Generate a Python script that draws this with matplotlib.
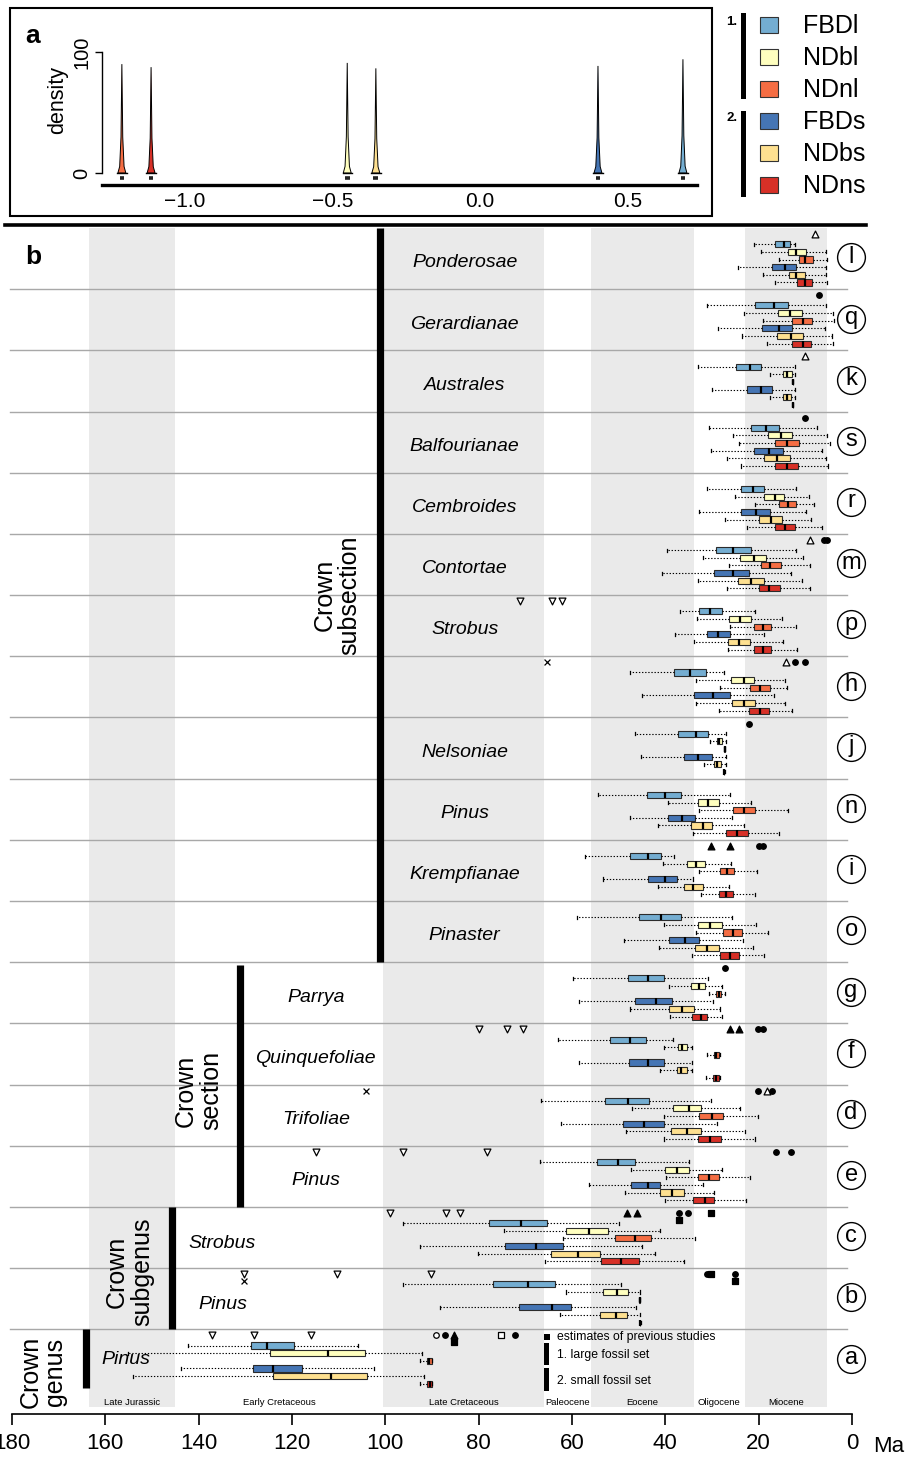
import matplotlib
matplotlib.use('Agg')
import matplotlib.pyplot as plt
from matplotlib.patches import Rectangle
from matplotlib.lines import Line2D

plt.rcParams['font.family'] = ['Liberation Sans', 'DejaVu Sans']

W, H = 905, 1460
def fx(p): return p / W
def fy(p): return 1 - p / H

# ---------------- data ----------------
models = ['FBDl', 'NDbl', 'NDnl', 'FBDs', 'NDbs', 'NDns']
model_colors = ['#74ADD1', '#FFFFBF', '#F46D43', '#4575B4', '#FEE090', '#D73027']

# panel a: rate densities (centre, peak height)
rate_models = ['NDnl', 'NDns', 'NDbl', 'NDbs', 'FBDs', 'FBDl']
rate_centers = [-1.214, -1.115, -0.450, -0.353, 0.400, 0.688]
rate_peaks = [90, 87.5, 91, 86.5, 88.5, 94]

# panel b rows (top to bottom)
row_ids = ['l', 'q', 'k', 's', 'r', 'm', 'p', 'h', 'j', 'n', 'i', 'o',
           'g', 'f', 'd', 'e', 'c', 'b', 'a']
clade_names = ['Ponderosae', 'Gerardianae', 'Australes', 'Balfourianae', 'Cembroides',
               'Contortae', 'Strobus', '', 'Nelsoniae', 'Pinus', 'Krempfianae', 'Pinaster',
               'Parrya', 'Quinquefoliae', 'Trifoliae', 'Pinus', 'Strobus', 'Pinus', 'Pinus']

# age summaries (Ma): oldest whisker, older quartile, median, younger quartile, youngest whisker
FBDl = [(21.1, 16.4, 14.5, 13.2, 12.2), (31.0, 20.7, 16.8, 13.7, 5.6), (32.9, 24.8, 21.9, 19.4, 12.2),
        (30.7, 21.6, 18.4, 15.6, 7.4), (31.1, 23.8, 21.3, 18.9, 11.9), (39.7, 29.1, 25.4, 21.7, 11.9),
        (36.9, 32.7, 30.4, 27.9, 20.7), (47.6, 38.2, 34.7, 31.3, 27.4), (46.6, 37.2, 33.4, 30.8, 27.1),
        (54.4, 43.9, 40.1, 36.6, 26.2), (57.2, 47.6, 43.7, 41.0, 38.1), (59.0, 45.6, 40.9, 36.7, 25.8),
        (59.7, 48.1, 43.8, 40.2, 30.9), (62.9, 51.8, 47.6, 44.2, 38.3), (66.7, 52.9, 48.1, 43.6, 30.2),
        (66.9, 54.7, 50.2, 46.6, 34.9), (96.2, 77.7, 71.0, 65.3, 50.0), (96.2, 77.0, 69.5, 63.7, 49.4),
        (142.2, 128.7, 125.4, 119.5, 105.9)]
NDbl = [(19.4, 13.8, 11.9, 9.9, 5.6), (23.1, 15.8, 13.2, 10.8, 4.1), (17.5, 14.8, 13.9, 12.9, 12.2),
        (25.4, 17.9, 15.3, 12.8, 5.4), (25.1, 18.9, 16.4, 14.5, 9.3), (31.9, 23.9, 21.0, 18.5, 10.6),
        (33.3, 26.3, 24.0, 21.6, 14.9), (33.5, 25.9, 23.2, 20.9, 14.4), (30.4, 29.0, 28.5, 27.9, 27.1),
        (39.5, 32.9, 30.8, 28.5, 21.7), (40.4, 35.3, 33.5, 31.6, 26.0), (40.2, 32.9, 30.4, 27.9, 20.6),
        (39.3, 34.6, 32.7, 31.4, 27.9), (40.3, 37.3, 36.4, 35.4, 34.2), (47.2, 38.4, 35.0, 32.4, 23.9),
        (47.4, 40.0, 37.5, 35.0, 27.9), (74.6, 61.3, 56.3, 52.2, 41.2), (61.2, 53.3, 50.3, 47.9, 45.4),
        (155.2, 124.7, 112.2, 104.3, 92.2)]
NDnl = [(15.7, 11.4, 10.0, 8.4, 5.3), (19.0, 12.9, 10.5, 8.6, 3.9), (12.8, 12.75, 12.7, 12.65, 12.6),
        (24.3, 16.6, 13.9, 11.4, 4.8), (20.8, 15.6, 13.8, 11.9, 8.1), (26.4, 19.6, 17.5, 15.2, 8.9),
        (26.2, 20.9, 19.1, 17.3, 11.9), (28.2, 21.9, 19.7, 17.6, 13.9), (27.4, 27.35, 27.3, 27.25, 27.2),
        (32.7, 25.6, 23.1, 20.8, 13.8), (32.7, 28.3, 26.8, 25.2, 20.4), (33.4, 27.6, 25.5, 23.6, 17.9),
        (30.6, 29.1, 28.6, 28.0, 27.3), (31.0, 29.6, 29.2, 28.6, 28.2), (40.2, 32.7, 29.9, 27.6, 20.1),
        (39.9, 33.0, 30.7, 28.4, 21.9), (62.0, 50.7, 46.4, 43.0, 33.6), (45.6, 45.55, 45.5, 45.45, 45.4),
        (92.6, 91.1, 90.6, 90.1, 90.1)]
FBDs = [(24.5, 17.1, 14.4, 12.1, 5.6), (28.7, 19.3, 15.7, 12.9, 5.8), (30.1, 22.4, 19.5, 17.2, 12.2),
        (30.2, 21.0, 17.8, 14.7, 6.5), (32.7, 23.7, 20.6, 17.6, 9.9), (40.7, 29.6, 25.6, 22.0, 13.0),
        (37.9, 31.1, 28.7, 26.1, 18.9), (45.1, 33.8, 29.8, 26.2, 16.7), (45.2, 36.1, 32.9, 29.9, 27.1),
        (47.6, 39.4, 36.4, 33.7, 25.7), (53.3, 43.8, 40.0, 37.4, 34.0), (48.9, 39.2, 35.8, 32.7, 23.4),
        (58.6, 46.6, 42.0, 38.5, 29.7), (58.6, 47.7, 43.8, 40.3, 34.2), (62.4, 49.1, 44.5, 40.2, 28.9),
        (56.4, 47.3, 43.7, 41.2, 32.0), (92.5, 74.3, 67.7, 62.0, 45.0), (88.2, 71.4, 64.2, 60.2, 46.3),
        (143.7, 128.4, 124.0, 117.9, 102.5)]
NDbs = [(19.0, 13.6, 11.9, 10.1, 5.6), (23.6, 16.0, 13.0, 10.6, 4.3), (17.5, 14.7, 13.9, 13.0, 12.2),
        (26.7, 18.8, 16.0, 13.2, 5.6), (27.2, 19.9, 17.3, 14.9, 8.8), (33.1, 24.5, 21.6, 18.8, 10.7),
        (33.9, 26.6, 24.2, 21.8, 14.7), (33.5, 25.8, 23.2, 20.7, 14.3), (31.7, 29.5, 28.9, 28.0, 27.1),
        (41.5, 34.6, 32.0, 29.9, 23.2), (41.6, 35.9, 34.0, 31.9, 26.3), (41.4, 33.7, 31.0, 28.4, 21.2),
        (47.5, 39.3, 36.4, 33.9, 28.2), (41.2, 37.6, 36.6, 35.4, 34.2), (48.5, 38.8, 35.4, 32.4, 22.9),
        (48.7, 41.2, 38.6, 36.1, 29.5), (80.2, 64.6, 58.8, 53.9, 42.3), (62.6, 53.9, 50.5, 48.2, 45.5),
        (154.1, 124.0, 111.6, 104.0, 91.7)]
NDns = [(16.6, 11.8, 10.1, 8.5, 5.3), (18.3, 12.8, 10.4, 8.8, 4.0), (12.8, 12.75, 12.7, 12.65, 12.6),
        (23.8, 16.6, 14.0, 11.6, 5.2), (22.6, 16.4, 14.3, 12.3, 6.5), (26.8, 20.0, 17.7, 15.4, 9.0),
        (26.5, 21.0, 19.1, 17.3, 11.7), (28.4, 22.1, 19.7, 17.8, 12.9), (27.5, 27.45, 27.4, 27.35, 27.3),
        (34.1, 27.1, 24.6, 22.3, 15.6), (32.4, 28.4, 26.9, 25.4, 20.8), (34.3, 28.3, 26.2, 24.2, 18.8),
        (39.1, 34.3, 32.4, 31.1, 27.8), (31.3, 29.8, 29.2, 28.6, 28.2), (40.3, 33.1, 30.5, 28.0, 20.7),
        (40.0, 34.0, 31.6, 29.5, 22.8), (65.8, 53.7, 49.4, 45.7, 36.1), (45.5, 45.45, 45.4, 45.35, 45.3),
        (92.6, 91.0, 90.5, 90.0, 90.0)]
model_data = [FBDl, NDbl, NDnl, FBDs, NDbs, NDns]

# previous estimates: (row, age Ma, symbol, level)
prev_estimates = [
    ('l', 7.9, 'tri_open', 0), ('q', 7.1, 'dot', 0), ('k', 10.1, 'tri_open', 0), ('s', 10.1, 'dot', 0),
    ('m', 8.9, 'tri_open', 0), ('m', 6.1, 'dot', 0), ('m', 5.4, 'dot', 0),
    ('p', 71.2, 'dtri_open', 0), ('p', 64.3, 'dtri_open', 0), ('p', 62.1, 'dtri_open', 0),
    ('h', 65.4, 'x', 0), ('h', 14.1, 'tri_open', 0), ('h', 12.2, 'dot', 0), ('h', 10.1, 'dot', 0),
    ('j', 22.1, 'dot', 0),
    ('i', 30.2, 'tri_fill', 0), ('i', 26.2, 'tri_fill', 0), ('i', 20.0, 'dot', 0), ('i', 19.1, 'dot', 0),
    ('g', 27.2, 'dot', 0),
    ('f', 80.0, 'dtri_open', 0), ('f', 74.0, 'dtri_open', 0), ('f', 70.5, 'dtri_open', 0),
    ('f', 26.2, 'tri_fill', 0), ('f', 24.2, 'tri_fill', 0), ('f', 20.2, 'dot', 0), ('f', 19.1, 'dot', 0),
    ('d', 104.2, 'x', 0), ('d', 20.2, 'dot', 0), ('d', 18.3, 'tri_open', 0), ('d', 17.1, 'dot', 0),
    ('e', 114.9, 'dtri_open', 0), ('e', 96.2, 'dtri_open', 0), ('e', 78.2, 'dtri_open', 0),
    ('e', 16.2, 'dot', 0), ('e', 13.1, 'dot', 0),
    ('c', 99.1, 'dtri_open', 0), ('c', 87.0, 'dtri_open', 0), ('c', 84.1, 'dtri_open', 0),
    ('c', 48.2, 'tri_fill', 0), ('c', 46.1, 'tri_fill', 0), ('c', 37.1, 'dot', 0), ('c', 35.1, 'dot', 0),
    ('c', 37.1, 'sq', 1), ('c', 30.2, 'sq', 0),
    ('b', 130.3, 'dtri_open', 0), ('b', 130.3, 'x', 1), ('b', 110.3, 'dtri_open', 0),
    ('b', 90.3, 'dtri_open', 0), ('b', 31.1, 'dot', 0), ('b', 30.3, 'sq', 0),
    ('b', 25.1, 'dot', 0), ('b', 25.1, 'sq', 1),
    ('a', 137.1, 'dtri_open', 0), ('a', 128.1, 'dtri_open', 0), ('a', 116.0, 'dtri_open', 0),
    ('a', 89.2, 'circ_open', 0), ('a', 87.2, 'dot', 0), ('a', 85.2, 'tri_fill', 0), ('a', 85.2, 'sq', 1),
    ('a', 75.2, 'sq_open', 0), ('a', 72.2, 'dot', 0),
]

# geological periods (Ma)
period_names = ['Late Jurassic', 'Early Cretaceous', 'Late Cretaceous', 'Paleocene',
                'Eocene', 'Oligocene', 'Miocene']
period_start = [163.5, 145.0, 100.5, 66.0, 56.0, 33.9, 23.0]
period_end = [145.0, 100.5, 66.0, 56.0, 33.9, 23.0, 5.3]
period_shaded = [True, False, True, False, True, False, True]

age_ticks = [180, 160, 140, 120, 100, 80, 60, 40, 20, 0]

# ---------------- figure ----------------
fig = plt.figure(figsize=(W / 100, H / 100), dpi=100)

# ===== panel a =====
axa = fig.add_axes([fx(102.4), fy(185), fx(696.8) - fx(102.4), (185 - 45) / H])
axa.set_xlim(-1.28, 0.735)
axa.set_ylim(-9.9, 105.8)
color_of = dict(zip(models, model_colors))
prof_x = [-1, -0.55, -0.22, 0, 0.22, 0.55, 1]
prof_y = [0, 0.06, 0.33, 1, 0.33, 0.06, 0]
for m, c, h in zip(rate_models, rate_centers, rate_peaks):
    xs = [c + 0.0135 * p for p in prof_x]
    ys = [h * q for q in prof_y]
    axa.fill(xs, ys, facecolor=color_of[m], edgecolor='black', lw=0.7, zorder=3)
    axa.plot([c - 0.016, c + 0.016], [0, 0], color='black', lw=1.0, zorder=3)
    axa.plot([c - 0.008, c + 0.008], [-4.5, -4.5], color='#222222', lw=2.6,
             solid_capstyle='butt', zorder=3)
for s in ['top', 'right']:
    axa.spines[s].set_visible(False)
axa.spines['left'].set_bounds(0, 100)
axa.spines['left'].set_linewidth(1.0)
axa.spines['bottom'].set_linewidth(2.4)
axa.set_xticks([-1.0, -0.5, 0.0, 0.5])
axa.set_xticklabels(['\u22121.0', '\u22120.5', '0.0', '0.5'], fontsize=15)
axa.tick_params(axis='x', length=0, pad=5)
axa.set_yticks([0, 100])
axa.set_yticklabels(['0', '100'], fontsize=14.5, rotation=90, va='center')
axa.tick_params(axis='y', length=5, width=1.0, pad=3)
fig.text(fx(58), fy(100), 'density', rotation=90, ha='center', va='center', fontsize=15.5)
fig.add_artist(Rectangle((fx(10), fy(216)), fx(712) - fx(10), (216 - 8) / H,
                         transform=fig.transFigure, fill=False, lw=1.5, ec='black'))
fig.text(fx(33), fy(36), 'a', fontsize=19, fontweight='bold', ha='center', va='center')

# legend (top right)
leg_y = [25, 57, 89, 121, 153, 185]
for m, col, yy in zip(models, model_colors, leg_y):
    fig.add_artist(Rectangle((fx(760), fy(yy + 8)), 18 / W, 16 / H, transform=fig.transFigure,
                             facecolor=col, edgecolor='#333333', lw=0.8))
    fig.text(fx(803), fy(yy + 1), m, fontsize=18, ha='left', va='center')
fig.add_artist(Rectangle((fx(741), fy(99)), 5 / W, 86 / H, transform=fig.transFigure,
                         facecolor='black', edgecolor='none'))
fig.add_artist(Rectangle((fx(741), fy(197)), 5 / W, 86 / H, transform=fig.transFigure,
                         facecolor='black', edgecolor='none'))
fig.text(fx(732), fy(22), '1.', fontsize=9.5, fontweight='bold', ha='center', va='center')
fig.text(fx(732), fy(118), '2.', fontsize=9.5, fontweight='bold', ha='center', va='center')

# separator line
fig.add_artist(Line2D([fx(5), fx(866)], [fy(225), fy(225)], transform=fig.transFigure,
                      color='black', lw=2.6))

# ===== panel b =====
axb = fig.add_axes([fx(12), fy(1407), fx(852) - fx(12), (1407 - 228) / H])
axb.set_xlim(180, 0)
axb.set_ylim(19.27, 0)

for st, en, sh in zip(period_start, period_end, period_shaded):
    if sh:
        axb.axvspan(en, st, color='#EAEAEA', lw=0, zorder=0)
for name, st, en in zip(period_names, period_start, period_end):
    axb.text((st + en) / 2, 19.19, name, fontsize=6.8, ha='center', va='center', zorder=3)

nrows = len(row_ids)
for k in range(1, nrows):
    axb.plot([180.4, 1.07], [k, k], color='#A8A8A8', lw=1.0, clip_on=False, zorder=1)

def draw_boxes(ax, stats, positions, color, width=0.1):
    kw = dict(positions=positions, widths=width, patch_artist=True, showfliers=False,
              capwidths=0.05, manage_ticks=False,
              boxprops=dict(facecolor=color, edgecolor='#2b2b2b', linewidth=0.8),
              medianprops=dict(color='black', linewidth=1.6, solid_capstyle='butt'),
              whiskerprops=dict(color='black', linewidth=0.8, linestyle=(0, (1.2, 1.6))),
              capprops=dict(color='black', linewidth=0.9))
    try:
        ax.bxp(stats, orientation='horizontal', **kw)
    except TypeError:
        ax.bxp(stats, vert=False, **kw)

for i, (data, col) in enumerate(zip(model_data, model_colors)):
    stats = []
    pos = []
    for r, (wo, qo, med, qy, wy) in enumerate(data):
        stats.append(dict(med=med, q1=qy, q3=qo, whislo=wy, whishi=wo, fliers=[]))
        pos.append(r + 0.265 + 0.125 * i)
    draw_boxes(axb, stats, pos, col)

marker_styles = {
    'tri_open': dict(marker='^', facecolors='white', edgecolors='black', s=24),
    'tri_fill': dict(marker='^', facecolors='black', edgecolors='black', s=24),
    'dtri_open': dict(marker='v', facecolors='white', edgecolors='black', s=24),
    'dot': dict(marker='o', facecolors='black', edgecolors='black', s=16),
    'circ_open': dict(marker='o', facecolors='white', edgecolors='black', s=16),
    'sq': dict(marker='s', facecolors='black', edgecolors='black', s=18),
    'sq_open': dict(marker='s', facecolors='white', edgecolors='black', s=18),
    'x': dict(marker='x', c='black', s=18),
}
row_index = {r: i for i, r in enumerate(row_ids)}
for rid, age, kind, lev in prev_estimates:
    y = row_index[rid] + 0.1 + 0.115 * lev
    axb.scatter([age], [y], linewidths=0.9, zorder=4, clip_on=False, **marker_styles[kind])

# clade names
for r, name in enumerate(clade_names):
    if not name:
        continue
    if r <= 11:
        xa, ya = 83.0, r + 0.57
    elif r <= 15:
        xa, ya = 114.9, r + 0.57
    elif r <= 17:
        xa, ya = 134.9, r + 0.59
    else:
        xa, ya = 155.7, r + 0.5
    axb.text(xa, ya, name, fontsize=14, style='italic', ha='center', va='center', zorder=5)

# circle letters
for r, rid in enumerate(row_ids):
    axb.scatter([0.2], [r + 0.48], s=400, marker='o', facecolors='white', edgecolors='black',
                linewidths=1.0, zorder=5, clip_on=False)
    axb.text(0.2, r + 0.47, rid, fontsize=17, ha='center', va='center', zorder=6, clip_on=False)

# group bars and labels
group_bars = [(101.2, 0.0, 12.0), (131.2, 12.05, 16.0), (145.8, 16.0, 18.0), (164.2, 18.0, 18.96)]
for xg, y0, y1 in group_bars:
    axb.plot([xg, xg], [y0, y1], color='black', lw=5.2, solid_capstyle='butt', zorder=5)
group_labels = [('Crown\nsubsection', 110.3, 6.0), ('Crown\nsection', 140.0, 14.1),
                ('Crown\nsubgenus', 154.8, 17.06), ('Crown\ngenus', 173.4, 18.7)]
for txt, xg, yg in group_labels:
    axb.text(xg, yg, txt, rotation=90, fontsize=18, ha='center', va='center',
             linespacing=1.05, zorder=5)

# axes styling
for s in ['top', 'left', 'right']:
    axb.spines[s].set_visible(False)
axb.spines['bottom'].set_position(('outward', 5))
axb.spines['bottom'].set_linewidth(1.2)
axb.set_yticks([])
axb.set_xticks(age_ticks)
axb.set_xticklabels([str(t) for t in age_ticks], fontsize=16)
axb.tick_params(axis='x', length=8, width=1.2, pad=6)
fig.text(fx(889), fy(1447), 'Ma', fontsize=16, ha='center', va='center')
fig.text(fx(33), fy(257), 'b', fontsize=19, fontweight='bold', ha='center', va='center')

# bottom legend
fig.add_artist(Rectangle((fx(544), fy(1340)), 6 / W, 6 / H, transform=fig.transFigure,
                         facecolor='black', edgecolor='none'))
fig.add_artist(Rectangle((fx(544), fy(1365)), 5 / W, 22 / H, transform=fig.transFigure,
                         facecolor='black', edgecolor='none'))
fig.add_artist(Rectangle((fx(544), fy(1391)), 5 / W, 23 / H, transform=fig.transFigure,
                         facecolor='black', edgecolor='none'))
fig.text(fx(557), fy(1337), 'estimates of previous studies', fontsize=8.8, ha='left', va='center')
fig.text(fx(557), fy(1355), '1. large fossil set', fontsize=8.8, ha='left', va='center')
fig.text(fx(557), fy(1381), '2. small fossil set', fontsize=8.8, ha='left', va='center')

fig.savefig('out.png', dpi=100)
